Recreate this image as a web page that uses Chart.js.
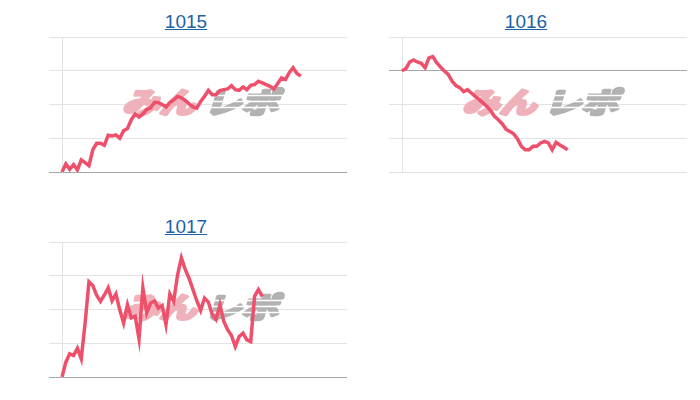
<!DOCTYPE html>
<html>
<head>
<meta charset="utf-8">
<script src="https://cdn.jsdelivr.net/npm/chart.js@4.4.1/dist/chart.umd.min.js"></script>
<style>
  body { margin: 0; background: #fff; width: 700px; height: 400px; position: relative; overflow: hidden; }
  .title { position: absolute; width: 200px; text-align: center; font: 19px/21px "Liberation Sans", Arial, sans-serif; }
  .title a { color: #1b63a5; text-decoration: underline; }
  canvas { position: absolute; }
</style>
</head>
<body>
<div class="title" style="left:86px; top:11px;"><a href="#">1015</a></div>
<div class="title" style="left:426px; top:11px;"><a href="#">1016</a></div>
<div class="title" style="left:86px; top:216px;"><a href="#">1017</a></div>
<canvas id="c1015" width="300" height="150" style="left:48px; top:30px;"></canvas>
<canvas id="c1016" width="300" height="150" style="left:388px; top:30px;"></canvas>
<canvas id="c1017" width="300" height="150" style="left:48px; top:235px;"></canvas>
<script>
// x slots (labels are hidden), data only fills part of them
const slots = Array.from({length: 75}, (_, i) => i + 1);

const values1015 = [0, 240, 80, 220, 60, 360, 280, 190, 660, 850, 850, 790, 1090, 1070, 1100,
  1000, 1220, 1290, 1550, 1720, 1630, 1720, 1850, 1900, 2060, 2060, 2000, 1930, 2060, 2140,
  2240, 2200, 2120, 2020, 1930, 1890, 2090, 2240, 2420, 2290, 2290, 2410, 2440, 2460, 2560,
  2440, 2420, 2520, 2440, 2570, 2590, 2690, 2640, 2590, 2540, 2460, 2620, 2790, 2740, 2940,
  3090, 2920, 2840];

const values1016 = [0, 60, 260, 320, 260, 220, 90, 380, 420, 240, 110, -10, -110, -310, -440,
  -500, -620, -560, -660, -760, -850, -950, -1050, -1180, -1350, -1450, -1570, -1730, -1800,
  -1870, -2020, -2240, -2340, -2340, -2240, -2240, -2140, -2090, -2140, -2340, -2120, -2200,
  -2270, -2340];

const values1017 = [0, 440, 690, 640, 850, 540, 1600, 2820, 2710, 2420, 2240, 2430, 2640, 2260,
  2460, 1990, 1600, 2140, 1750, 1800, 1130, 2640, 1900, 2190, 2260, 2040, 2120, 1550, 2460,
  2240, 3020, 3530, 3190, 2920, 2590, 2260, 1970, 2340, 2220, 1850, 1700, 2140, 1650, 1400,
  1230, 900, 1200, 1300, 1100, 1050, 2390, 2590, 2390];

const range1015 = [0, 4000];
const range1016 = [-3000, 1000];
const range1017 = [0, 4000];

// "みんレポ" watermark in the middle of the plot
const watermark = {
  id: 'watermark',
  beforeDatasetsDraw(chart) {
    const {ctx, chartArea: a} = chart;
    const cx = (a.left + a.right) / 2 - 2;
    const cy = (a.top + a.bottom) / 2 - 2;
    ctx.save();
    ctx.font = 'bold 30px "Noto Sans CJK JP"';
    ctx.textBaseline = 'middle';
    ctx.textAlign = 'center';
    const parts = [['みん', 'rgb(240, 178, 186)', cx - 40], ['レポ', 'rgb(178, 178, 178)', cx + 42]];
    parts.forEach(([txt, col, px]) => {
      const w = ctx.measureText(txt).width;
      ctx.save();
      ctx.translate(px, cy);
      ctx.transform(1, 0, -0.3, 1, 0, 0);
      ctx.scale(74 / w, 0.95);
      ctx.fillStyle = col;
      ctx.strokeStyle = col;
      ctx.lineWidth = 3.5;
      ctx.lineJoin = 'round';
      ctx.strokeText(txt, 0, 0);
      ctx.fillText(txt, 0, 0);
      ctx.restore();
    });
    // speed lines cut through the grey part
    ctx.strokeStyle = '#fff';
    ctx.lineWidth = 1.5;
    [-7, -1, 5].forEach(dy => {
      ctx.beginPath();
      ctx.moveTo(cx + 2, cy + dy);
      ctx.lineTo(cx + 84, cy + dy);
      ctx.stroke();
    });
    ctx.restore();
  }
};

const makeChart = (id, values, range) => {
  const ctx = document.getElementById(id).getContext('2d');
  return new Chart(ctx, {
    type: 'line',
    data: {
      labels: slots,
      datasets: [{
        data: values,
        borderColor: 'rgb(238, 80, 108)',
        borderWidth: 3.5,
        pointRadius: 0,
        tension: 0,
        fill: false
      }]
    },
    options: {
      responsive: false,
      animation: false,
      layout: {padding: {top: 7, bottom: 8, left: 1, right: 1}},
      plugins: {
        legend: {display: false},
        tooltip: {enabled: false}
      },
      scales: {
        x: {display: false},
        y: {
          min: range[0],
          max: range[1],
          ticks: {display: false, stepSize: 1000},
          grid: {
            tickLength: 13,
            color: c => (c.tick && c.tick.value === 0) ? '#a8a8a8' : '#e3e3e3'
          },
          border: {color: '#e3e3e3'}
        }
      }
    },
    plugins: [watermark]
  });
};

makeChart('c1015', values1015, range1015);
makeChart('c1016', values1016, range1016);
makeChart('c1017', values1017, range1017);
</script>
</body>
</html>
